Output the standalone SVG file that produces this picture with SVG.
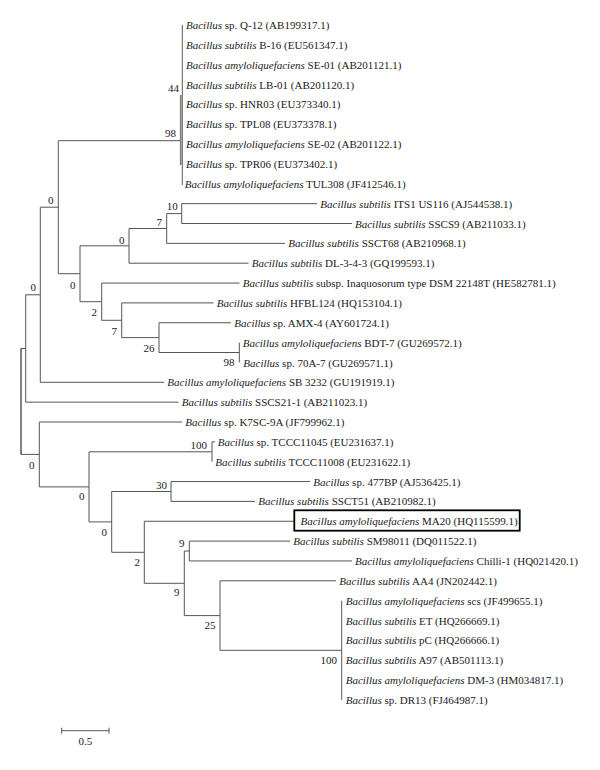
<svg xmlns="http://www.w3.org/2000/svg" width="600" height="770" viewBox="0 0 600 770">
<style>
text{font-family:"Liberation Serif","Times New Roman",serif;font-size:11px;fill:#1a1a1a}
.i{font-style:italic}
.b{text-anchor:end}
.ln{fill:none;stroke:#555;stroke-width:1}
.root{fill:none;stroke:#000;stroke-width:1}
.box{fill:none;stroke:#000;stroke-width:1.8}
</style>
<rect width="600" height="770" fill="#fff"/>
<g id="connectors">
<path class="ln" d="M182.3,25V185 M58.3,140.7H180.7"/>
<path class="ln" style="stroke-width:1.6;stroke:#777" d="M180.7,95V165"/>
<path class="ln" d="M58.3,140.7V273.7 M40.3,207.2H58.3
M80,245.8V301.7 M58.3,273.7H80
M129,228.5V263.2 M80,245.8H129 M129,263.2H248.5
M166.7,213.6V243.35 M129,228.5H166.7 M166.7,243.35H285
M181.7,203.65V223.5 M166.7,213.6H181.7 M181.7,203.65H317 M181.7,223.5H352
M101.7,283.05V320.3 M80,301.7H101.7 M101.7,283.05H239.5
M121.7,302.9V337.6 M101.7,320.3H121.7 M121.7,302.9H213.5
M159,322.75V352.5 M121.7,337.6H159 M159,322.75H231
M239.3,342.6V362.45 M159,352.5H239.3
M40.3,207.2V382.3 M25.7,294.8H40.3 M40.3,382.3H164
M25.7,294.8V402.15 M21,348.5H25.7 M25.7,402.15H178.5
M39.3,422V486.9 M21,454.4H39.3 M39.3,422H182
M89,451.8V521.9 M39.3,486.9H89
M212,441.85V461.7 M89,451.8H212 M212,441.85H215
M111.7,491.5V552.3 M89,521.9H111.7
M171,481.55V501.4 M111.7,491.5H171 M171,481.55H310 M171,501.4H255
M144.3,521.25V583.3 M111.7,552.3H144.3 M144.3,521.25H294.3
M184.3,551V615.6 M144.3,583.3H184.3
M189.3,541.1V560.95 M184.3,551H189.3 M189.3,541.1H290 M189.3,560.95H352
M220,580.8V650.3 M184.3,615.6H220 M220,580.8H336
M341.7,600.65V699.9 M220,650.3H341.7"/>
<path class="root" d="M21,348.5V454.4"/>
</g>
<g id="leaves">
<g id="l1"><text x="186" y="29"><tspan class="i">Bacillus</tspan> sp. Q-12 (AB199317.1)</text></g>
<g id="l2"><text x="186" y="48.9"><tspan class="i">Bacillus subtilis</tspan> B-16 (EU561347.1)</text></g>
<g id="l3"><text x="186" y="68.7"><tspan class="i">Bacillus amyloliquefaciens</tspan> SE-01 (AB201121.1)</text></g>
<g id="l4"><text x="186" y="88.6"><tspan class="i">Bacillus subtilis</tspan> LB-01 (AB201120.1)</text></g>
<g id="l5"><text x="186" y="108.4"><tspan class="i">Bacillus</tspan> sp. HNR03 (EU373340.1)</text></g>
<g id="l6"><text x="186" y="128.3"><tspan class="i">Bacillus</tspan> sp. TPL08 (EU373378.1)</text></g>
<g id="l7"><text x="186" y="148.1"><tspan class="i">Bacillus amyloliquefaciens</tspan> SE-02 (AB201122.1)</text></g>
<g id="l8"><text x="186" y="168"><tspan class="i">Bacillus</tspan> sp. TPR06 (EU373402.1)</text></g>
<g id="l9"><text x="184.7" y="187.8"><tspan class="i">Bacillus amyloliquefaciens</tspan> TUL308 (JF412546.1)</text></g>
<g id="l10"><text x="320.3" y="207.7"><tspan class="i">Bacillus subtilis</tspan> ITS1 US116 (AJ544538.1)</text></g>
<g id="l11"><text x="355" y="227.5"><tspan class="i">Bacillus subtilis</tspan> SSCS9 (AB211033.1)</text></g>
<g id="l12"><text x="288.3" y="247.4"><tspan class="i">Bacillus subtilis</tspan> SSCT68 (AB210968.1)</text></g>
<g id="l13"><text x="251.7" y="267.2"><tspan class="i">Bacillus subtilis</tspan> DL-3-4-3 (GQ199593.1)</text></g>
<g id="l14"><text x="242.7" y="287.1"><tspan class="i">Bacillus subtilis</tspan> subsp. Inaquosorum type DSM 22148T (HE582781.1)</text></g>
<g id="l15"><text x="216.7" y="306.9"><tspan class="i">Bacillus subtilis</tspan> HFBL124 (HQ153104.1)</text></g>
<g id="l16"><text x="234.3" y="326.8"><tspan class="i">Bacillus</tspan> sp. AMX-4 (AY601724.1)</text></g>
<g id="l17"><text x="242.7" y="346.6"><tspan class="i">Bacillus amyloliquefaciens</tspan> BDT-7 (GU269572.1)</text></g>
<g id="l18"><text x="243.3" y="366.5"><tspan class="i">Bacillus</tspan> sp. 70A-7 (GU269571.1)</text></g>
<g id="l19"><text x="167.3" y="386.3"><tspan class="i">Bacillus amyloliquefaciens</tspan> SB 3232 (GU191919.1)</text></g>
<g id="l20"><text x="181.7" y="406.2"><tspan class="i">Bacillus subtilis</tspan> SSCS21-1 (AB211023.1)</text></g>
<g id="l21"><text x="185.3" y="426"><tspan class="i">Bacillus</tspan> sp. K7SC-9A (JF799962.1)</text></g>
<g id="l22"><text x="217.7" y="445.9"><tspan class="i">Bacillus</tspan> sp. TCCC11045 (EU231637.1)</text></g>
<g id="l23"><text x="215.3" y="465.7"><tspan class="i">Bacillus subtilis</tspan> TCCC11008 (EU231622.1)</text></g>
<g id="l24"><text x="313.3" y="485.6"><tspan class="i">Bacillus</tspan> sp. 477BP (AJ536425.1)</text></g>
<g id="l25"><text x="258.3" y="505.4"><tspan class="i">Bacillus subtilis</tspan> SSCT51 (AB210982.1)</text></g>
<g id="l26"><rect class="box" x="294.3" y="510.3" width="225.4" height="20.4"/><text x="300.5" y="525.3"><tspan class="i">Bacillus amyloliquefaciens</tspan> MA20 (HQ115599.1)</text></g>
<g id="l27"><text x="293.3" y="545.1"><tspan class="i">Bacillus subtilis</tspan> SM98011 (DQ011522.1)</text></g>
<g id="l28"><text x="355" y="565"><tspan class="i">Bacillus amyloliquefaciens</tspan> Chilli-1 (HQ021420.1)</text></g>
<g id="l29"><text x="339.3" y="584.8"><tspan class="i">Bacillus subtilis</tspan> AA4 (JN202442.1)</text></g>
<g id="l30"><text x="345.7" y="604.7"><tspan class="i">Bacillus amyloliquefaciens</tspan> scs (JF499655.1)</text></g>
<g id="l31"><text x="345.7" y="624.5"><tspan class="i">Bacillus subtilis</tspan> ET (HQ266669.1)</text></g>
<g id="l32"><text x="345.7" y="644.4"><tspan class="i">Bacillus subtilis</tspan> pC (HQ266666.1)</text></g>
<g id="l33"><text x="345.7" y="664.2"><tspan class="i">Bacillus subtilis</tspan> A97 (AB501113.1)</text></g>
<g id="l34"><text x="345.7" y="684.1"><tspan class="i">Bacillus amyloliquefaciens</tspan> DM-3 (HM034817.1)</text></g>
<g id="l35"><text x="345.7" y="703.9"><tspan class="i">Bacillus</tspan> sp. DR13 (FJ464987.1)</text></g>
</g>
<g id="nodes">
<g id="n44"><text class="b" x="179" y="92">44</text></g>
<g id="n98a"><text class="b" x="176" y="137">98</text></g>
<g id="n0a"><text class="b" x="53.5" y="203.5">0</text></g>
<g id="n0b"><text class="b" x="75.5" y="288.5">0</text></g>
<g id="n0c"><text class="b" x="124.5" y="243.5">0</text></g>
<g id="n7a"><text class="b" x="162" y="226">7</text></g>
<g id="n10"><text class="b" x="177.7" y="210">10</text></g>
<g id="n2a"><text class="b" x="97" y="316">2</text></g>
<g id="n7b"><text class="b" x="117" y="334.5">7</text></g>
<g id="n26"><text class="b" x="154.5" y="352">26</text></g>
<g id="n98b"><text class="b" x="234.5" y="366">98</text></g>
<g id="n0d"><text class="b" x="36" y="291">0</text></g>
<g id="n0f"><text class="b" x="34.5" y="468.5">0</text></g>
<g id="n100a"><text class="b" x="207" y="448.5">100</text></g>
<g id="n0g"><text class="b" x="84.5" y="500">0</text></g>
<g id="n30"><text class="b" x="167" y="488.5">30</text></g>
<g id="n0h"><text class="b" x="107" y="536">0</text></g>
<g id="n2b"><text class="b" x="140" y="566">2</text></g>
<g id="n9a"><text class="b" x="184.5" y="547">9</text></g>
<g id="n9b"><text class="b" x="179.5" y="596">9</text></g>
<g id="n25"><text class="b" x="215.5" y="629">25</text></g>
<g id="n100b"><text class="b" x="337" y="663.5">100</text></g>
</g>
<g id="scale">
<path class="ln" d="M61.7,730.7H109 M61.7,727.7V733.7 M109,727.7V733.7"/>
<text x="85.3" y="745" text-anchor="middle">0.5</text>
</g>
</svg>
